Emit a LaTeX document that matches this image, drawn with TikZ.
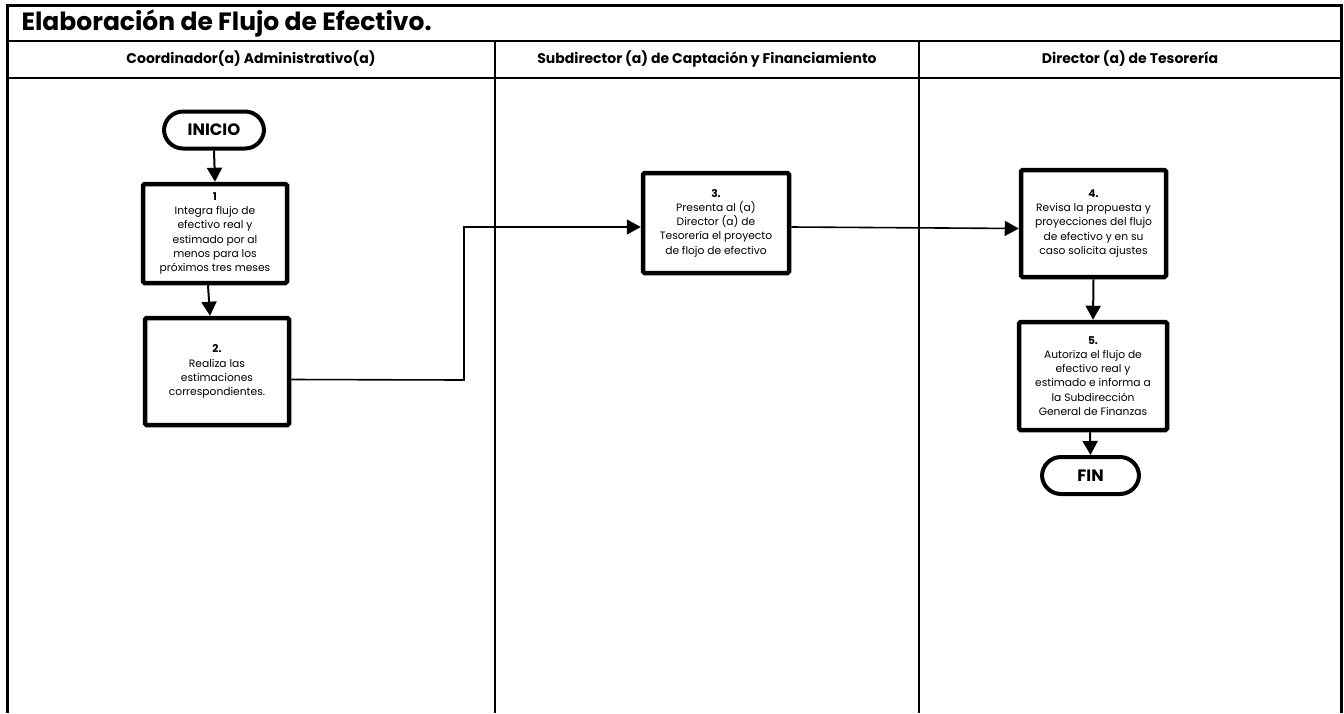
\documentclass[tikz,border=0pt]{standalone}
\usepackage{fontspec}
\setmainfont{Poppins}
\usetikzlibrary{arrows.meta,calc}
\begin{document}
\begin{tikzpicture}[x=1pt,y=-1pt,
  frame/.style={line width=3pt},
  grid/.style={line width=2.5pt},
  head/.style={font=\fontsize{14}{16}\selectfont\bfseries},
  stepbox/.style={draw,line width=4.5pt,rounded corners=1.5pt,align=center,inner sep=1pt,font=\fontsize{10.7}{14.2}\selectfont},
  term/.style={draw,line width=4pt,rounded corners=19pt,minimum width=100pt,minimum height=37pt,font=\fontsize{16.5}{18}\selectfont\bfseries},
  arr/.style={line width=2pt,-{Triangle[length=14pt,width=15pt]}},
  conn/.style={line width=1.6pt}
]
\useasboundingbox (0,0) rectangle (1344,713);
% frame
\draw[frame] (7,713) -- (7,5) -- (1341,5) -- (1341,713);
\draw[grid] (7,41) -- (1341,41);
\draw[grid] (7,78) -- (1341,78);
\draw[grid] (495,41) -- (495,713);
\draw[grid] (919,41) -- (919,713);
% title and headers
\node[anchor=west,font=\fontsize{25}{27}\selectfont\bfseries] (title) at (18,23) {Elaboración de Flujo de Efectivo.};
\node[head] (h1) at (251,59) {Coordinador(a) Administrativo(a)};
\node[head] (h2) at (707,59) {Subdirector (a) de Captación y Financiamiento};
\node[head] (h3) at (1130,59) {Director (a) de Tesorería};
% nodes
\node[term] (ini) at (214,130) {INICIO};
\node[stepbox,minimum width=144pt,minimum height=99pt] (b1) at (215,233.5)
  {\textbf{1}\\Integra flujo de\\efectivo real y\\estimado por al\\menos para los\\próximos tres meses};
\node[stepbox,minimum width=144pt,minimum height=107pt] (b2) at (217,371.5)
  {\textbf{2.}\\Realiza las\\estimaciones\\correspondientes.};
\node[stepbox,minimum width=146pt,minimum height=100pt] (b3) at (716,223)
  {\textbf{3.}\\Presenta al (a)\\Director (a) de\\Tesorería el proyecto\\de flojo de efectivo};
\node[stepbox,minimum width=145pt,minimum height=107pt] (b4) at (1093.5,223.5)
  {\textbf{4.}\\Revisa la propuesta y\\proyecciones del flujo\\de efectivo y en su\\caso solicita ajustes};
\node[stepbox,minimum width=148pt,minimum height=108pt] (b5) at (1093,376)
  {\textbf{5.}\\Autoriza el flujo de\\efectivo real y\\estimado e informa a\\la Subdirección\\General de Finanzas};
\node[term,minimum width=97pt] (fin) at (1090.5,475.5) {FIN};
% connectors
\draw[arr] (ini.south) -- (b1.north);
\draw[arr] ([xshift=-7pt]b1.south) -- ([xshift=-7pt]b2.north);
\draw[conn,-{Triangle[length=14pt,width=15pt]}] ([yshift=-8pt]b2.east) -- (464,380) -- (464,227) -- ([yshift=-4pt]b3.west);
\draw[conn,-{Triangle[length=14pt,width=15pt]}] ([yshift=-4pt]b3.east) -- ([yshift=-5pt]b4.west);
\draw[arr] (b4.south) -- (b5.north);
\draw[arr] ([xshift=-3pt]b5.south) -- (fin.north);
\end{tikzpicture}
\end{document}
